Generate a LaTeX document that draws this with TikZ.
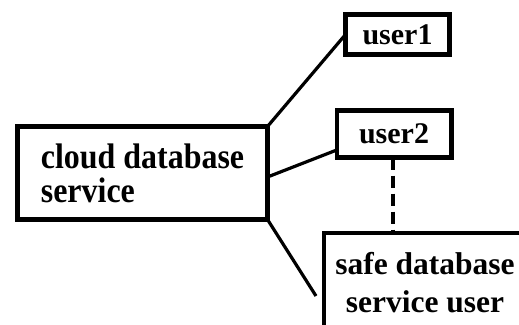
\documentclass[tikz,border=0pt]{standalone}
\usepackage{fontspec}
\setmainfont{Liberation Serif}
\newfontfamily\narrowserif[FakeStretch=0.9]{Liberation Serif}
\usetikzlibrary{positioning}
\tikzset{
  box/.style={draw, line width=4.5pt, outer sep=0pt, inner sep=0pt,
    font=\bfseries\fontsize{30}{34}\selectfont},
  link/.style={line width=3.2pt},
}

\begin{document}
\begin{tikzpicture}[x=1pt, y=-1pt]

  \clip (0,0) rectangle (519,324);

  % Dienst links
  \node[box, align=left, minimum width=250pt, minimum height=93pt, font=\narrowserif\bfseries\fontsize{35.5}{34}\selectfont] (cloud) at (142.5,173) {cloud database\\service};

  % Nutzer rechts
  \node[box, minimum width=104pt, minimum height=40pt] (user1) at (397.5,34.5) {user1};
  \node[box, minimum width=114.5pt, minimum height=47pt] (user2) at (394,134) {user2};
  \node[box, align=center, minimum width=202pt, minimum height=100pt, font=\bfseries\fontsize{31.5}{38}\selectfont] (safe) at (425,283) {safe database\\service user};

  % Verbindungen
  \draw[link] (cloud.north east) -- (user1.west);
  \draw[link] ([yshift=-4pt]cloud.east) -- ([yshift=-16pt]user2.west);
  \coordinate (gap) at (316,296);
  \draw[link] (cloud.south east) -- (gap);
  \draw[link, line width=4pt, dash pattern=on 12pt off 6pt] ([xshift=-1.5pt]user2.south) -- ([xshift=-1.5pt]user2.south |- safe.north);

\end{tikzpicture}
\end{document}
